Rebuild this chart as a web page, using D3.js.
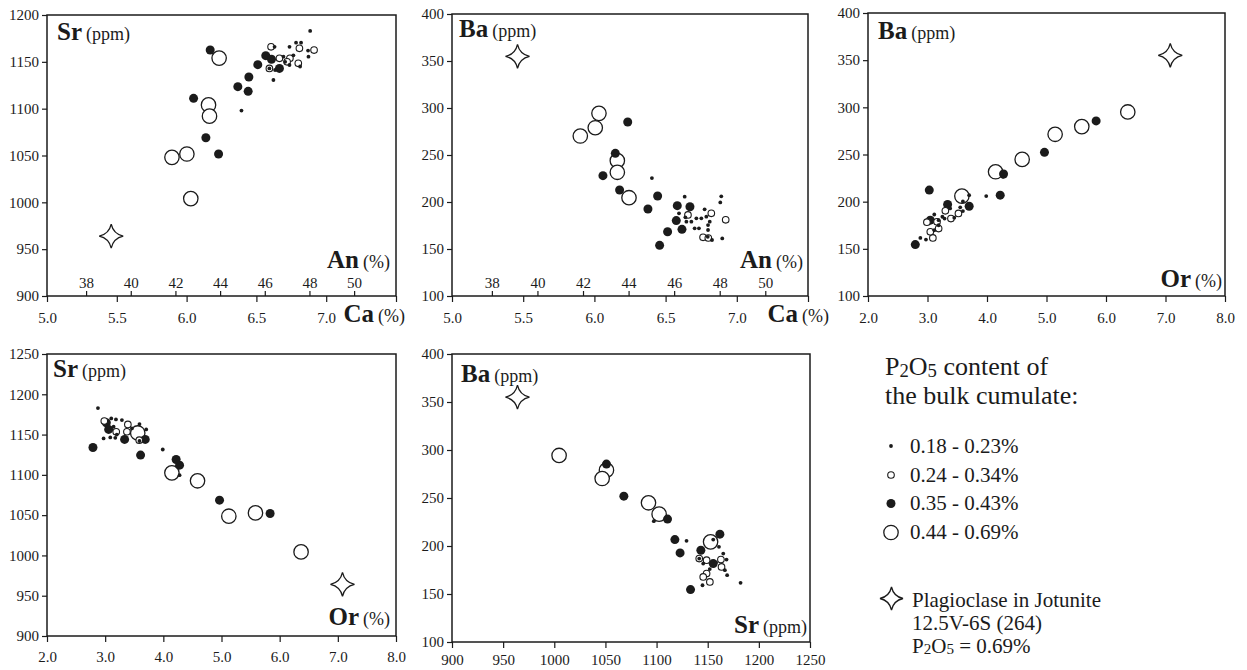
<!DOCTYPE html>
<html>
<head>
<meta charset="utf-8">
<script src="https://cdn.jsdelivr.net/npm/d3@7"></script>
<style>
  html, body { margin: 0; padding: 0; background: #fff; }
  svg { display: block; font-family: "Liberation Serif", "Times New Roman", serif; }
</style>
</head>
<body>
<svg id="chart" width="1247" height="670"></svg>
<script>
// ---------------------------------------------------------------------------
// Plagioclase trace elements vs. composition, grouped by P2O5 content of the
// bulk cumulate (class 1: 0.18-0.23 %, 2: 0.24-0.34 %, 3: 0.35-0.43 %,
// 4: 0.44-0.69 %). Each point is [x, y, class].
// ---------------------------------------------------------------------------

// Sr (ppm) vs Ca (%)
const srVsCa = [
  [6.233, 1154, 4], [6.157, 1104, 4], [6.164, 1092, 4], [5.895, 1048, 4], [6.002, 1051.6, 4], [6.03, 1004, 4],
  [6.169, 1162.6, 3], [6.05, 1111, 3], [6.138, 1069, 3], [6.229, 1051.6, 3], [6.367, 1123.5, 3], [6.441, 1118.5, 3],
  [6.446, 1133.8, 3], [6.51, 1147, 3], [6.567, 1156.6, 3], [6.608, 1152.7, 3], [6.665, 1143, 3],
  [6.605, 1166, 2], [6.593, 1143, 2], [6.665, 1153.7, 2], [6.74, 1153.7, 2], [6.80, 1148.4, 2], [6.808, 1164.4, 2],
  [6.913, 1162.6, 2], [6.72, 1150, 2],
  [6.393, 1098, 1], [6.622, 1130.6, 1], [6.885, 1183, 1], [6.873, 1155.5, 1], [6.737, 1166, 1], [6.784, 1170.5, 1],
  [6.82, 1170.5, 1], [6.813, 1145, 1], [6.737, 1146.6, 1], [6.706, 1150, 1], [6.694, 1155.5, 1], [6.634, 1141.3, 1],
  [6.593, 1143, 1], [6.63, 1166, 1], [6.765, 1157, 1], [6.87, 1162, 1]
];

// Ba (ppm) vs Ca (%)
const baVsCa = [
  [6.032, 294.3, 4], [6.006, 279, 4], [5.901, 270.2, 4], [6.161, 244, 4], [6.161, 231.6, 4], [6.243, 204.6, 4],
  [6.234, 285.1, 3], [6.147, 251.8, 3], [6.06, 228, 3], [6.177, 212.8, 3], [6.376, 192.6, 3], [6.444, 206.4, 3],
  [6.514, 168.4, 3], [6.458, 153.9, 3], [6.582, 196.1, 3], [6.575, 180.2, 3], [6.615, 170.9, 3], [6.671, 195, 3],
  [6.922, 181, 2], [6.763, 162.4, 2], [6.80, 161.7, 2], [6.821, 188, 2], [6.657, 186.2, 2],
  [6.404, 225.5, 1], [6.634, 205.7, 1], [6.891, 206, 1], [6.884, 199.6, 1], [6.898, 161.3, 1], [6.826, 159.6, 1],
  [6.646, 179.1, 1], [6.681, 179.1, 1], [6.716, 182.6, 1], [6.751, 182.6, 1], [6.786, 184.4, 1], [6.81, 179.1, 1],
  [6.704, 172, 1], [6.734, 172, 1], [6.798, 175.5, 1], [6.798, 170.2, 1], [6.594, 187.9, 1], [6.639, 183.7, 1],
  [6.796, 163, 1], [6.774, 192.2, 1]
];

// Ba (ppm) vs Or (%)
const baVsOr = [
  [6.366, 295.1, 4], [5.593, 279.6, 4], [5.145, 271.4, 4], [4.591, 244.8, 4], [4.144, 231.7, 4], [3.578, 205.9, 4],
  [5.834, 285.6, 3], [4.966, 252.3, 3], [4.278, 229.3, 3], [4.222, 206.9, 3], [3.70, 195.2, 3], [3.338, 197, 3],
  [3.03, 212.3, 3], [3.047, 180.4, 3], [2.795, 154.5, 3],
  [2.99, 178.3, 2], [3.187, 171.5, 2], [3.09, 161.6, 2], [3.394, 182.1, 2], [3.52, 187.5, 2], [3.3, 190.3, 2],
  [3.047, 168, 2], [3.16, 178.6, 2],
  [4.27, 226.4, 1], [3.987, 205.9, 1], [3.70, 206.9, 1], [3.595, 200.2, 1], [3.595, 190, 1], [3.114, 186.4, 1],
  [3.187, 180.4, 1], [3.187, 175, 1], [3.114, 169.7, 1], [2.974, 159.8, 1], [2.88, 161.6, 1], [3.287, 182.1, 1],
  [3.38, 192.8, 1], [3.25, 184, 1], [3.45, 183, 1], [3.55, 194, 1]
];

// Sr (ppm) vs Or (%)
const srVsOr = [
  [6.368, 1004.4, 4], [5.584, 1052.8, 4], [5.126, 1048.7, 4], [4.588, 1092.6, 4], [4.147, 1102.5, 4], [3.56, 1152, 4],
  [5.836, 1052, 3], [4.966, 1068.6, 3], [4.279, 1112, 3], [4.22, 1119, 3], [3.609, 1124.5, 3], [3.689, 1144, 3],
  [3.334, 1144, 3], [2.79, 1134, 3], [3.02, 1164.7, 3], [3.06, 1156.4, 3],
  [3.39, 1162.6, 2], [3.374, 1153.5, 2], [3.586, 1143, 2], [2.985, 1166.7, 2], [3.19, 1153.5, 2],
  [4.279, 1099.6, 1], [3.99, 1131.5, 1], [2.876, 1182.9, 1], [3.105, 1170, 1], [3.185, 1168.8, 1], [3.288, 1168, 1],
  [3.59, 1163, 1], [3.706, 1156.4, 1], [2.973, 1145.2, 1], [3.088, 1146.4, 1], [3.174, 1146, 1], [3.46, 1157.6, 1],
  [3.145, 1159.7, 1], [3.2, 1150, 1], [3.59, 1142, 1]
];

// Ba (ppm) vs Sr (ppm)
const baVsSr = [
  [1004.7, 294.3, 4], [1051, 279, 4], [1046.8, 270.3, 4], [1092.1, 245, 4], [1102.5, 233.2, 4], [1152.8, 204.3, 4],
  [1051, 285.3, 3], [1068, 251.9, 3], [1110.7, 228, 3], [1117.9, 206.7, 3], [1123, 192.8, 3], [1133.2, 154.6, 3],
  [1161.9, 212.3, 3], [1143.3, 195.6, 3], [1155.4, 181.7, 3],
  [1141.7, 186.9, 2], [1148.9, 185.2, 2], [1162.9, 185.9, 2], [1148.9, 171.3, 2], [1145.6, 167.8, 2],
  [1152.1, 162.6, 2], [1163.5, 178.2, 2],
  [1097.3, 225.9, 1], [1129.3, 205.4, 1], [1155.4, 206.7, 1], [1161, 199.1, 1], [1165.2, 192.1, 1], [1168.4, 185.9, 1],
  [1166.8, 174.8, 1], [1169, 169.6, 1], [1144.9, 159.1, 1], [1182.1, 161.6, 1], [1145.6, 181.7, 1], [1141.7, 186.9, 1],
  [1152, 176, 1], [1158, 183, 1]
];

// Plagioclase in jotunite 12.5V-6S (264)
const jotCa = 5.46, jotOr = 7.08, jotSr = 964, jotBa = 355;

// Tick values
const caTicks = [5.0, 5.5, 6.0, 6.5, 7.0, 7.5];
const anTicks = [38, 40, 42, 44, 46, 48, 50];
const orTicks = [2, 3, 4, 5, 6, 7, 8];
const srTicksA = [900, 950, 1000, 1050, 1100, 1150, 1200];
const srTicksB = [900, 950, 1000, 1050, 1100, 1150, 1200, 1250];
const baTicks = [100, 150, 200, 250, 300, 350, 400];

// Legend texts
const classLabels = ["0.18 - 0.23%", "0.24 - 0.34%", "0.35 - 0.43%", "0.44 - 0.69%"];
const starLines = ["Plagioclase in Jotunite", "12.5V-6S (264)"];

// ---------------------------------------------------------------------------
const INK = "#1b1b1b";
const svg = d3.select("#chart");
svg.append("rect").attr("width", 1247).attr("height", 670).attr("fill", "#fff");

const markStyle = {
  1: { r: 1.9, fill: INK, stroke: "none", sw: 0 },
  2: { r: 3.3, fill: "#fff", stroke: INK, sw: 1.1 },
  3: { r: 4.5, fill: INK, stroke: "none", sw: 0 },
  4: { r: 7.2, fill: "#fff", stroke: INK, sw: 1.3 }
};
const drawOrder = [4, 3, 2, 1];

// four-pointed star with concave sides
function starPath(R) {
  const c = R * 0.18;
  return `M0,${-R}Q${c},${-c} ${R},0Q${c},${c} 0,${R}Q${-c},${c} ${-R},0Q${-c},${-c} 0,${-R}Z`;
}

function axisLabel(g, x, y, anchor, bold, unit) {
  const t = g.append("text").attr("x", x).attr("y", y)
    .attr("text-anchor", anchor).attr("fill", INK);
  t.append("tspan").attr("font-weight", "bold").attr("font-size", 25).text(bold);
  t.append("tspan").attr("font-size", 18).attr("dx", 4).text(unit);
}

function styleAxis(sel) {
  sel.selectAll("path.domain").remove();
  sel.selectAll(".tick line").attr("stroke", INK).attr("stroke-width", 1.2);
  sel.selectAll(".tick text").attr("fill", INK).attr("font-size", 15)
    .attr("font-family", "Liberation Serif, Times New Roman, serif");
}

const panels = [
  { f: { l: 47, r: 396, t: 15, b: 296 }, xd: [5, 7.5], yd: [900, 1200], xt: caTicks, yt: srTicksA, pad: 10,
    fmt: d => d === 7.5 ? "" : d.toFixed(1), data: srVsCa, star: [jotCa, jotSr], an: true,
    title: [57, 40, "Sr", "(ppm)"], corner: [390, 268, "An", "(%)"], xLab: [405, 322, "Ca", "(%)"] },
  { f: { l: 452, r: 808, t: 14, b: 296 }, xd: [5, 7.5], yd: [100, 400], xt: caTicks, yt: baTicks, pad: 10,
    fmt: d => d === 7.5 ? "" : d.toFixed(1), data: baVsCa, star: [jotCa, jotBa], an: true,
    title: [459, 37, "Ba", "(ppm)"], corner: [803, 268, "An", "(%)"], xLab: [829, 322, "Ca", "(%)"] },
  { f: { l: 868, r: 1225, t: 13, b: 296 }, xd: [2, 8], yd: [100, 400], xt: orTicks, yt: baTicks, pad: 10,
    fmt: d => d.toFixed(1), data: baVsOr, star: [jotOr, jotBa], an: false,
    title: [878, 39, "Ba", "(ppm)"], corner: [1222, 287, "Or", "(%)"] },
  { f: { l: 47, r: 396, t: 354, b: 636 }, xd: [2, 8], yd: [900, 1250], xt: orTicks, yt: srTicksB, pad: 9,
    fmt: d => d.toFixed(1), data: srVsOr, star: [jotOr, jotSr], an: false,
    title: [53, 377, "Sr", "(ppm)"], corner: [390, 625, "Or", "(%)"] },
  { f: { l: 452, r: 810, t: 354, b: 642 }, xd: [900, 1250], yd: [100, 400], xt: srTicksB, yt: baTicks, pad: 6,
    fmt: d => String(d), data: baVsSr, star: [jotSr, jotBa], an: false,
    title: [461, 382, "Ba", "(ppm)"], corner: [807, 633, "Sr", "(ppm)"] }
];

panels.forEach(p => {
  const g = svg.append("g");
  const x = d3.scaleLinear().domain(p.xd).range([p.f.l, p.f.r]);
  const y = d3.scaleLinear().domain(p.yd).range([p.f.b, p.f.t]);

  // left axis
  g.append("g").attr("transform", `translate(${p.f.l},0)`)
    .call(d3.axisLeft(y).tickValues(p.yt).tickSize(5).tickPadding(3).tickFormat(d => String(d)))
    .call(styleAxis);

  // bottom axis
  g.append("g").attr("transform", `translate(0,${p.f.b})`)
    .call(d3.axisBottom(x).tickValues(p.xt).tickSize(6).tickPadding(p.pad).tickFormat(p.fmt))
    .call(styleAxis);

  // secondary anorthite scale drawn inside along the bottom edge (An = 6.25 Ca + 5)
  if (p.an) {
    const an = d3.scaleLinear().domain(p.xd.map(c => 6.25 * c + 5)).range([p.f.l, p.f.r]);
    g.append("g").attr("transform", `translate(0,${p.f.b})`)
      .call(d3.axisTop(an).tickValues(anTicks).tickSize(5).tickPadding(3).tickFormat(d => String(d)))
      .call(styleAxis);
  }

  // frame
  g.append("rect")
    .attr("x", p.f.l).attr("y", p.f.t)
    .attr("width", p.f.r - p.f.l).attr("height", p.f.b - p.f.t)
    .attr("fill", "none").attr("stroke", INK).attr("stroke-width", 1.5);

  // jotunite plagioclase
  g.append("path")
    .attr("d", starPath(12))
    .attr("transform", `translate(${x(p.star[0])},${y(p.star[1])})`)
    .attr("fill", "#fff").attr("stroke", INK).attr("stroke-width", 1.3);

  // samples
  const pts = p.data.slice().sort((a, b) => drawOrder.indexOf(a[2]) - drawOrder.indexOf(b[2]));
  g.append("g").selectAll("circle").data(pts).join("circle")
    .attr("cx", d => x(d[0])).attr("cy", d => y(d[1]))
    .attr("r", d => markStyle[d[2]].r)
    .attr("fill", d => markStyle[d[2]].fill)
    .attr("stroke", d => markStyle[d[2]].stroke)
    .attr("stroke-width", d => markStyle[d[2]].sw);

  axisLabel(g, p.title[0], p.title[1], "start", p.title[2], p.title[3]);
  axisLabel(g, p.corner[0], p.corner[1], "end", p.corner[2], p.corner[3]);
  if (p.xLab) axisLabel(g, p.xLab[0], p.xLab[1], "end", p.xLab[2], p.xLab[3]);
});

// ---------------------------------------------------------------------------
// Legend
const lg = svg.append("g").attr("fill", INK);

function p2o5(t, size) {
  t.append("tspan").text("P");
  t.append("tspan").attr("font-size", size * 0.72).attr("dy", size * 0.06).text("2");
  t.append("tspan").attr("dy", -size * 0.06).text("O");
  t.append("tspan").attr("font-size", size * 0.72).attr("dy", size * 0.06).text("5");
}

const h1 = lg.append("text").attr("x", 885).attr("y", 375).attr("font-size", 26);
p2o5(h1, 26);
h1.append("tspan").attr("dy", -26 * 0.06).text(" content of");
lg.append("text").attr("x", 885).attr("y", 404).attr("font-size", 26).text("the bulk cumulate:");

const entryY = [452.5, 481.5, 510, 539];
classLabels.forEach((lab, i) => {
  const s = markStyle[i + 1];
  lg.append("circle").attr("cx", 891).attr("cy", entryY[i] - 6.5).attr("r", s.r)
    .attr("fill", s.fill).attr("stroke", s.stroke).attr("stroke-width", s.sw);
  lg.append("text").attr("x", 910).attr("y", entryY[i]).attr("font-size", 21).text(lab);
});

lg.append("path").attr("d", starPath(11.5))
  .attr("transform", "translate(891.5,598.5)")
  .attr("fill", "#fff").attr("stroke", INK).attr("stroke-width", 1.3);
lg.append("text").attr("x", 912).attr("y", 607).attr("font-size", 21).text(starLines[0]);
lg.append("text").attr("x", 912).attr("y", 630).attr("font-size", 21).text(starLines[1]);
const h3 = lg.append("text").attr("x", 912).attr("y", 653).attr("font-size", 21);
p2o5(h3, 21);
h3.append("tspan").attr("dy", -21 * 0.06).text(" = 0.69%");
</script>
</body>
</html>
